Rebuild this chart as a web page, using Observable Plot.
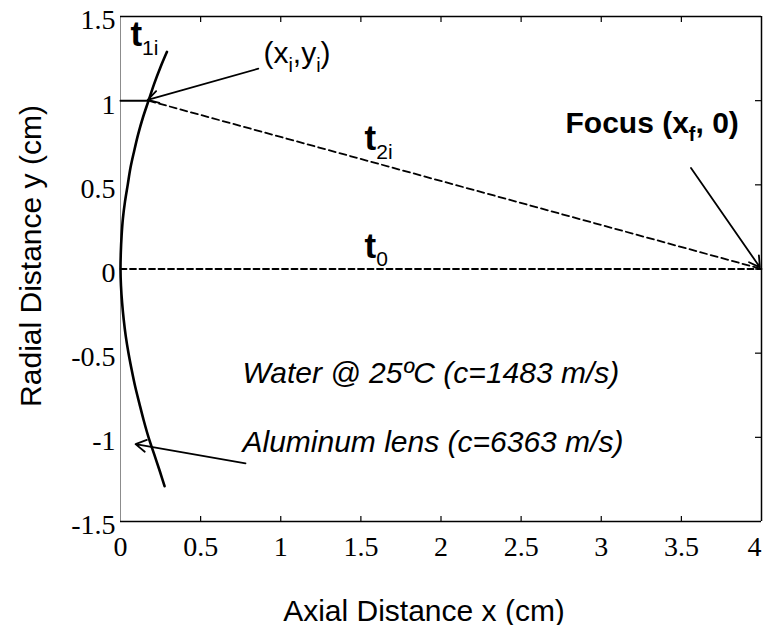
<!DOCTYPE html>
<html>
<head>
<meta charset="utf-8">
<script src="https://cdn.jsdelivr.net/npm/d3@7"></script>
<script src="https://cdn.jsdelivr.net/npm/@observablehq/plot@0.6"></script>
<style>
  html, body { margin: 0; padding: 0; background: #fff; }
</style>
</head>
<body>
<div id="chart"></div>
<script>
// ---------- data ----------
const xDomain = [0, 4];
const yDomain = [-1.5, 1.5];
const xTicks = [0, 0.5, 1, 1.5, 2, 2.5, 3, 3.5];
const xLastTick = [4];
const yTicks = [-1.5, -1, -0.5, 0, 0.5, 1, 1.5];
const xInnerTicks = [0.5, 1, 1.5, 2, 2.5, 3, 3.5];
const yInnerTicks = [-1, -0.5, 0, 0.5, 1];

// lens surface
const lensX = [0.29, 0.25, 0.21, 0.175, 0.14, 0.11, 0.085, 0.062, 0.045, 0.028, 0.015, 0.007, 0.002, 0,
               0.003, 0.01, 0.02, 0.033, 0.05, 0.07, 0.092, 0.118, 0.145, 0.175, 0.21, 0.245, 0.275];
const lensY = [1.29, 1.2, 1.1, 1.0, 0.9, 0.8, 0.7, 0.6, 0.5, 0.4, 0.3, 0.2, 0.1, 0,
               -0.1, -0.2, -0.3, -0.4, -0.5, -0.6, -0.7, -0.8, -0.9, -1.0, -1.1, -1.2, -1.29];

// rays
const incidentX = [0, 0.175];
const incidentY = [1.0, 1.0];
const refractedX = [0.175, 4];
const refractedY = [1.0, 0];
const axialX = [0, 4];
const axialY = [0, 0];

// annotation arrows
const arrowX1 = [0.86, 3.56, 0.78];
const arrowY1 = [1.19, 0.6, -1.155];
const arrowX2 = [0.17, 3.99, 0.094];
const arrowY2 = [1.005, 0.01, -1.04];

// annotation texts
const tLabelText = ["t_{1i}", "t_{2i}", "t_{0}"];
const tLabelX = [0.062, 1.523, 1.523];
const tLabelY = [1.322, 0.704, 0.068];

const pointLabelText = ["(x_{i},y_{i})"];
const pointLabelX = [0.892];
const pointLabelY = [1.221];

const focusLabelText = ["Focus (x_{f}, 0)"];
const focusLabelX = [2.777];
const focusLabelY = [0.81];

const mediumText = ["Water @ 25ºC (c=1483 m/s)", "Aluminum lens (c=6363 m/s)"];
const mediumX = [0.761, 0.761];
const mediumY = [-0.68, -1.09];

const xTitle = "Axial Distance x (cm)";
const yTitle = "Radial Distance y (cm)";

// ---------- build ----------
const W = 765, H = 625;
const mL = 120, mR = 4, mT = 16, mB = 104;
const plotW = W - mL - mR, plotH = H - mT - mB;

const zipXY = (xs, ys) => xs.map((x, i) => ({x, y: ys[i]}));
const lens = zipXY(lensX, lensY);
const incident = zipXY(incidentX, incidentY);
const refracted = zipXY(refractedX, refractedY);
const axial = zipXY(axialX, axialY);
const arrows = arrowX1.map((x1, i) => ({x1, y1: arrowY1[i], x2: arrowX2[i], y2: arrowY2[i]}));
const mkLabels = (t, xs, ys) => t.map((text, i) => ({text, x: xs[i], y: ys[i]}));

const sans = "'Liberation Sans', Arial, Helvetica, sans-serif";
const serif = "'Liberation Serif', 'Times New Roman', serif";

const chart = Plot.plot({
  width: W,
  height: H,
  marginLeft: mL,
  marginRight: mR,
  marginTop: mT,
  marginBottom: mB,
  style: {fontFamily: sans, background: "#fff", color: "#000"},
  x: {domain: xDomain, label: null},
  y: {domain: yDomain, label: null},
  marks: [
    Plot.axisX({ticks: xTicks, tickSize: 0, tickPadding: 15, fontSize: 28, fontFamily: serif,
                tickFormat: d => String(d), label: null}),
    Plot.axisX({ticks: xLastTick, tickSize: 0, tickPadding: 15, fontSize: 28, fontFamily: serif,
                tickFormat: d => String(d), label: null, textAnchor: "end"}),
    Plot.axisY({ticks: yTicks, tickSize: 0, tickPadding: 5, fontSize: 28, fontFamily: serif,
                tickFormat: d => String(d), label: null, dy: 4}),
    // box
    Plot.ruleX([xDomain[0]], {stroke: "#8c8c8c", strokeWidth: 1}),
    Plot.ruleX([xDomain[1]], {stroke: "#000", strokeWidth: 1.5}),
    Plot.ruleY([yDomain[0]], {stroke: "#000", strokeWidth: 1.5}),
    Plot.ruleY([yDomain[1]], {stroke: "#000", strokeWidth: 1.5}),
    // inward ticks
    Plot.tickX(xInnerTicks, {x: d => d, insetTop: plotH - 5, stroke: "#000", strokeWidth: 1.2}),
    Plot.tickX(xInnerTicks, {x: d => d, insetBottom: plotH - 6, stroke: "#000", strokeWidth: 1.2}),
    Plot.tickY(yInnerTicks, {y: d => d, insetLeft: plotW - 6, stroke: "#000", strokeWidth: 1.2}),
    // rays
    Plot.line(axial, {x: "x", y: "y", stroke: "#000", strokeWidth: 1.8, strokeDasharray: "6,3.5"}),
    Plot.line(refracted, {x: "x", y: "y", stroke: "#000", strokeWidth: 1.8, strokeDasharray: "7,4"}),
    Plot.line(incident, {x: "x", y: "y", stroke: "#000", strokeWidth: 2}),
    // lens
    Plot.line(lens, {x: "x", y: "y", curve: "catmull-rom", stroke: "#000", strokeWidth: 2.6}),
    // arrows
    Plot.arrow(arrows, {x1: "x1", y1: "y1", x2: "x2", y2: "y2", stroke: "#000", strokeWidth: 1.8, headLength: 10}),
    // labels
    Plot.text(mkLabels(tLabelText, tLabelX, tLabelY), {x: "x", y: "y", text: "text", textAnchor: "start",
              lineAnchor: "bottom", fontSize: 35, fontWeight: "bold", fill: "#000"}),
    Plot.text(mkLabels(pointLabelText, pointLabelX, pointLabelY), {x: "x", y: "y", text: "text", textAnchor: "start",
              lineAnchor: "bottom", fontSize: 30, fill: "#000"}),
    Plot.text(mkLabels(focusLabelText, focusLabelX, focusLabelY), {x: "x", y: "y", text: "text", textAnchor: "start",
              lineAnchor: "bottom", fontSize: 30, fontWeight: "bold", fill: "#000"}),
    Plot.text(mkLabels(mediumText, mediumX, mediumY), {x: "x", y: "y", text: "text", textAnchor: "start",
              lineAnchor: "bottom", fontSize: 30, fontStyle: "italic", fill: "#000"}),
    // axis titles
    Plot.text([xTitle], {text: d => d, frameAnchor: "bottom", textAnchor: "middle", lineAnchor: "bottom",
              dx: -17, dy: 99, fontSize: 30, fill: "#000"}),
    Plot.text([yTitle], {text: d => d, frameAnchor: "left", textAnchor: "middle", lineAnchor: "bottom",
              rotate: -90, dx: -80, dy: -13, fontSize: 30, fill: "#000"})
  ]
});

document.getElementById("chart").appendChild(chart);

// turn "_{...}" markup into real subscript tspans
const NS = "http://www.w3.org/2000/svg";
chart.querySelectorAll("text").forEach(t => {
  const s = t.textContent;
  if (!s.includes("_{")) return;
  const fs = parseFloat(getComputedStyle(t).fontSize);
  const isT = s.startsWith("t");
  const ratio = isT ? 0.6 : 0.66;
  const shift = (isT ? 0.25 : 0.28) * fs;
  const parts = s.split(/_\{([^}]*)\}/);
  t.textContent = "";
  let shifted = false;
  parts.forEach((p, i) => {
    if (p === "") return;
    const ts = document.createElementNS(NS, "tspan");
    ts.textContent = p;
    if (i % 2 === 1) {
      ts.setAttribute("font-size", (ratio * fs) + "px");
      ts.setAttribute("dy", shift);
      if (isT) ts.setAttribute("font-weight", "normal");
      shifted = true;
    } else if (shifted) {
      ts.setAttribute("dy", -shift);
      shifted = false;
    }
    t.appendChild(ts);
  });
});
</script>
</body>
</html>
